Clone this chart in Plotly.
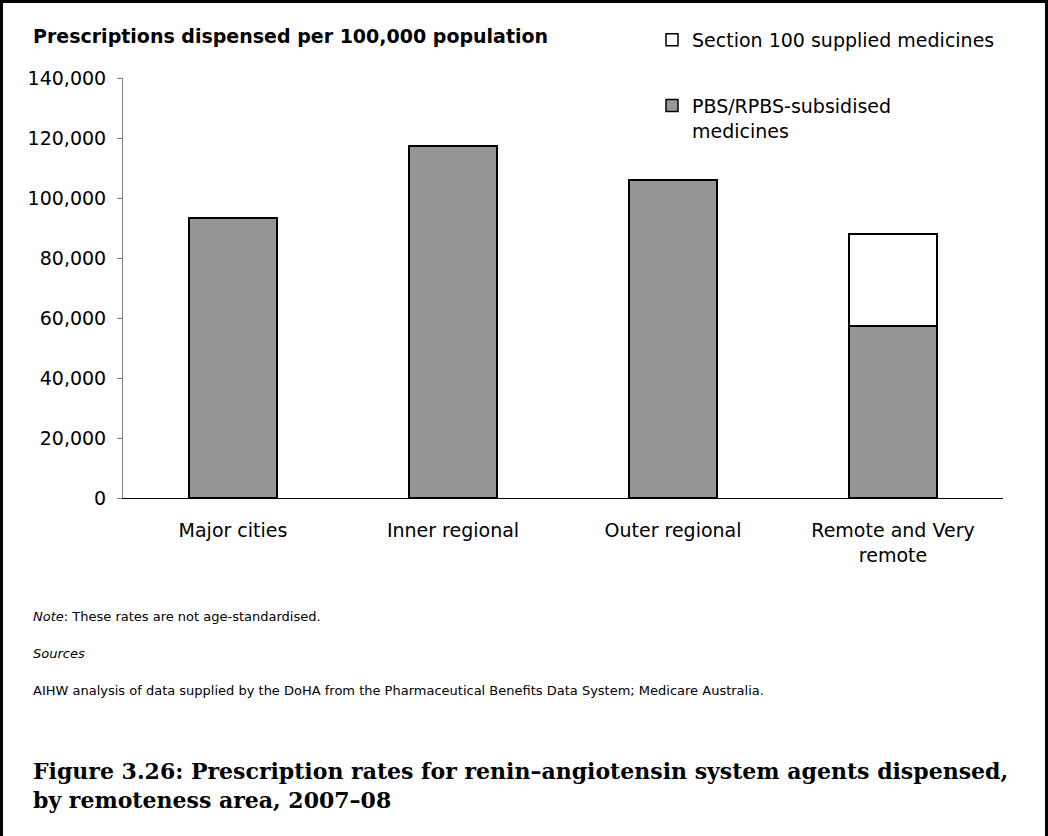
import plotly.graph_objects as go

# ---- data ----
categories = ["Major cities", "Inner regional", "Outer regional", "Remote and Very<br>remote"]
pbs_values = [93300, 117300, 106000, 57300]
s100_values = [None, None, None, 30700]
y_tick_values = [0, 20000, 40000, 60000, 80000, 100000, 120000, 140000]
y_tick_labels = ["0", "20,000", "40,000", "60,000", "80,000", "100,000", "120,000", "140,000"]

series_pbs = "PBS/RPBS-subsidised<br>medicines"
series_s100 = "Section 100 supplied medicines"

# ---- layout geometry (pixels) ----
W, H = 1048, 836
L, R, T, B = 123, 45, 78, 338
PW, PH = W - L - R, H - T - B


def px(x):
    return (x - L) / PW


def py(y):
    return (H - B - y) / PH


fig = go.Figure()
fig.add_trace(go.Bar(
    x=categories, y=pbs_values, name=series_pbs, width=0.4,
    marker=dict(color="#969696", line=dict(color="black", width=1.5)),
    legendgroup="pbs", legendrank=2,
))
fig.add_trace(go.Bar(
    x=categories, y=s100_values, name=series_s100, width=0.4,
    marker=dict(color="white", line=dict(color="black", width=1.5)),
    legendgroup="s100", legendrank=1,
))

font_main = "DejaVu Sans"

fig.update_layout(
    width=W, height=H,
    margin=dict(l=L, r=R, t=T, b=B, pad=0),
    paper_bgcolor="white", plot_bgcolor="white",
    barmode="stack",
    font=dict(family=font_main, size=19, color="black"),
    showlegend=True,
    legend=dict(
        x=px(652), y=py(21), xanchor="left", yanchor="top",
        traceorder="grouped", tracegroupgap=38,
        valign="top", itemwidth=30,
        font=dict(family=font_main, size=19, color="black"),
        bgcolor="rgba(0,0,0,0)", borderwidth=0,
    ),
    xaxis=dict(
        showline=True, linecolor="black", linewidth=1,
        ticks="", showgrid=False, zeroline=False,
        ticklabelstandoff=15,
        tickfont=dict(family=font_main, size=19, color="black"),
    ),
    yaxis=dict(
        range=[0, 140000], tickvals=y_tick_values, ticktext=y_tick_labels,
        showline=True, linecolor="#7f7f7f", linewidth=1,
        ticks="outside", ticklen=5, tickcolor="#7f7f7f", tickwidth=1,
        showgrid=False, zeroline=False,
        ticklabelstandoff=7,
        tickfont=dict(family=font_main, size=19, color="black"),
    ),
)

annotations = [
    dict(text="<b>Prescriptions dispensed per 100,000 population</b>",
         x=px(31), y=py(36), xanchor="left", yanchor="middle",
         font=dict(family=font_main, size=19, color="black")),
    dict(text="<i>Note</i>: These rates are not age-standardised.",
         x=px(31), y=py(616), xanchor="left", yanchor="middle",
         font=dict(family=font_main, size=13, color="black")),
    dict(text="<i>Sources</i>",
         x=px(31), y=py(653), xanchor="left", yanchor="middle",
         font=dict(family=font_main, size=13, color="black")),
    dict(text="AIHW analysis of data supplied by the DoHA from the Pharmaceutical Benefits Data System; Medicare Australia.",
         x=px(31), y=py(690), xanchor="left", yanchor="middle",
         font=dict(family=font_main, size=13, color="black")),
    dict(text="<b>Figure 3.26: Prescription rates for renin\u2013angiotensin system agents dispensed,<br>by remoteness area, 2007\u201308</b>",
         x=px(31), y=py(785), xanchor="left", yanchor="middle", align="left",
         font=dict(family="DejaVu Serif", size=22, color="black")),
]
for a in annotations:
    a.update(xref="paper", yref="paper", showarrow=False)
fig.update_layout(annotations=annotations)

# outer frame (left, top, right)
frame = dict(type="line", xref="paper", yref="paper", line=dict(color="black", width=3))
fig.add_shape(**frame, x0=px(1.5), x1=px(1.5), y0=py(0), y1=py(H))
fig.add_shape(**frame, x0=px(0), x1=px(W), y0=py(1.5), y1=py(1.5))
fig.add_shape(**frame, x0=px(W - 1.5), x1=px(W - 1.5), y0=py(0), y1=py(H))

fig.write_html("out.html", config={"displayModeBar": False},
               post_script="document.body.style.margin='0';")
